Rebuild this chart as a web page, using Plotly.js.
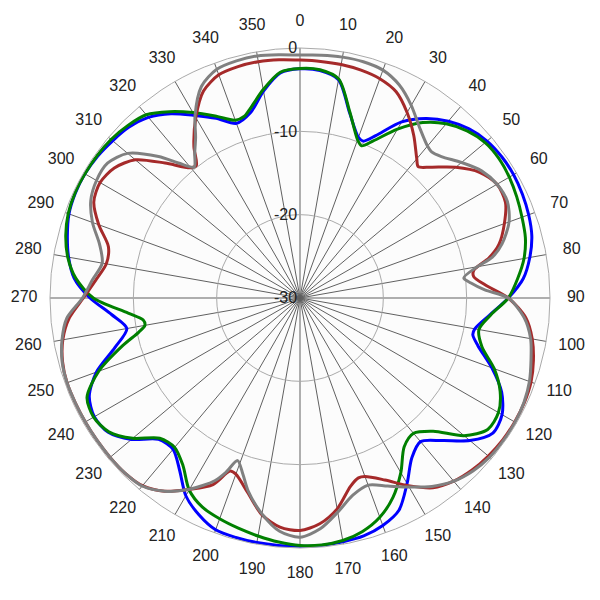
<!DOCTYPE html>
<html>
<head>
<meta charset="utf-8">
<script src="https://cdn.plot.ly/plotly-3.0.1.min.js"></script>
<style>html,body{margin:0;padding:0;background:#fff;}#chart{width:600px;height:600px;}</style>
</head>
<body>
<div id="chart"></div>
<script>
// Angles (degrees, clockwise from top) and levels (dB) per series
var blueTheta = [0,5,10,15,20,22,25,30,35,40,45,50,55,60,65,70,75,80,85,90,95,100,102,105,110,115,120,125,130,135,140,145,150,155,160,165,170,175,180,185,190,195,200,205,210,215,220,225,230,235,240,245,250,255,260,265,270,275,280,285,290,295,300,305,310,315,320,325,330,335,340,345,350,355,360];
var blueR = [-2.5,-2.6,-3.4,-7.0,-9.5,-9.7,-8.5,-5.6,-3.7,-2.3,-1.3,-0.7,-0.45,-0.4,-0.55,-0.8,-1.2,-2.0,-3.1,-5.0,-7.1,-8.7,-8.8,-7.9,-5.5,-3.3,-2.0,-1.75,-3.4,-5.8,-7.5,-6.6,-4.3,-1.9,-0.95,-0.45,-0.3,-0.2,-0.2,-0.2,-0.2,-0.25,-0.4,-1.3,-2.6,-4.8,-6.3,-6.0,-3.6,-1.9,-1.5,-2.1,-4.0,-7.0,-8.9,-7.3,-4.8,-2.8,-1.8,-1.1,-0.5,-0.25,-0.2,-0.35,-0.65,-1.0,-1.7,-3.0,-4.7,-6.2,-7.7,-7.0,-4.8,-2.9,-2.5];

var greenTheta = [0,5,10,15,20,22,25,30,35,40,45,50,55,60,65,70,75,80,85,90,95,100,105,110,115,120,125,130,135,140,145,150,155,160,165,170,175,180,185,190,195,200,205,210,215,220,225,230,235,240,245,250,255,258,260,262,265,270,275,280,285,290,295,300,305,310,315,320,325,330,335,340,343,345,350,355,360];
var greenR = [-2.45,-2.5,-3.3,-6.9,-9.8,-10.3,-9.2,-6.6,-4.3,-2.7,-1.65,-1.0,-0.85,-1.0,-1.3,-1.65,-2.0,-2.7,-3.8,-5.0,-7.0,-8.2,-7.4,-5.2,-3.5,-2.5,-2.5,-4.3,-7.4,-8.8,-8.2,-5.8,-3.6,-2.0,-1.0,-0.45,-0.25,-0.3,-0.6,-1.0,-1.4,-1.8,-2.3,-3.4,-5.5,-6.6,-6.2,-3.8,-2.0,-1.4,-1.8,-4.3,-8.0,-10.2,-11.1,-11.0,-9.3,-5.2,-3.0,-1.7,-0.9,-0.4,-0.2,-0.2,-0.25,-0.4,-0.75,-1.3,-2.7,-4.3,-5.9,-7.3,-7.2,-6.6,-4.6,-2.8,-2.45];

var redTheta = [0,5,10,15,20,25,30,35,40,42,45,50,55,60,65,70,75,78,81,83,86,90,95,100,105,110,115,120,125,130,135,140,145,150,155,160,162,165,170,175,180,185,190,195,200,202,205,210,215,220,225,230,235,240,245,250,255,260,265,270,275,280,285,290,295,300,305,310,315,320,322,325,330,335,340,345,350,355,360];
var redR = [-1.45,-1.5,-1.55,-1.7,-2.0,-2.7,-4.3,-6.2,-8.2,-8.8,-7.8,-5.6,-3.7,-2.7,-2.8,-3.9,-5.3,-6.8,-8.9,-9.0,-7.7,-5.0,-2.8,-1.7,-1.0,-0.5,-0.3,-0.25,-0.3,-0.5,-0.8,-1.3,-2.2,-4.0,-5.9,-7.2,-7.3,-6.6,-4.3,-2.8,-2.1,-2.4,-3.6,-5.8,-7.5,-7.6,-5.3,-3.5,-1.7,-0.6,-0.3,-0.25,-0.25,-0.25,-0.25,-0.25,-0.5,-1.1,-2.2,-4.0,-5.4,-6.4,-6.2,-4.3,-2.7,-2.3,-2.8,-4.2,-7.1,-9.6,-9.8,-7.8,-5.0,-2.6,-1.5,-1.25,-1.2,-1.3,-1.45];

var greyTheta = [0,5,10,15,20,25,30,35,40,42,45,50,55,60,65,70,75,78,80,83,85,87.5,90,95,100,105,110,115,120,125,130,135,140,145,150,155,160,165,170,175,180,185,190,195,198,201,203,205,210,215,220,225,230,235,240,245,250,255,260,265,270,275,280,285,290,295,300,305,310,315,318,321,324,327,330,335,340,345,350,355,360];
var greyR = [-0.85,-0.75,-0.65,-0.65,-0.9,-1.8,-3.3,-5.0,-6.2,-6.4,-6.0,-4.7,-3.4,-2.7,-2.55,-3.3,-4.9,-6.4,-8.4,-10.2,-9.4,-7.8,-5.0,-3.0,-1.9,-1.3,-0.7,-0.35,-0.2,-0.2,-0.3,-0.65,-1.3,-2.4,-3.8,-5.1,-6.1,-5.5,-3.9,-2.2,-1.3,-1.9,-3.7,-6.0,-7.8,-9.1,-7.3,-5.8,-3.5,-1.7,-0.55,-0.3,-0.25,-0.25,-0.25,-0.25,-0.25,-0.45,-1.0,-1.9,-3.9,-5.0,-5.9,-5.1,-3.5,-2.3,-1.8,-1.8,-3.0,-6.0,-8.2,-9.8,-8.5,-7.0,-4.8,-2.0,-0.8,-0.55,-0.5,-0.7,-0.85];

var angTicks = [0,10,20,30,40,50,60,70,80,90,100,110,120,130,140,150,160,170,180,190,200,210,220,230,240,250,260,270,280,290,300,310,320,330,340,350];
var angTickText = angTicks.map(String);
var angLabelR = 3.1;   // label ring just outside the 0 dB circle (on an outer, invisible polar)
var radTicks = [-30,-20,-10,0];

function tr(theta, r, color) {
  return {type:'scatterpolar', mode:'lines', theta:theta, r:r,
    line:{color:color, width:3, shape:'spline', smoothing:0.8},
    hoverinfo:'skip', showlegend:false};
}

var data = [
  tr(blueTheta, blueR, '#0000ff'),
  tr(greenTheta, greenR, '#008000'),
  tr(redTheta, redR, '#a52a2a'),
  tr(greyTheta, greyR, '#808080'),
  {type:'scatterpolar', subplot:'polar2', mode:'text', theta:angTicks,
   r:angTicks.map(function(){return angLabelR;}),
   text:angTickText, textposition:'middle center', cliponaxis:false,
   textfont:{family:'Liberation Sans, Arial, sans-serif', size:16, color:'#222'},
   hoverinfo:'skip', showlegend:false}
];

var d0 = 40/580, d1 = 540/580;
var layout = {
  width:600, height:600,
  margin:{l:10, r:10, t:8, b:12},
  paper_bgcolor:'#ffffff',
  showlegend:false,
  font:{family:'Liberation Sans, Arial, sans-serif', size:16, color:'#222'},
  polar:{
    bgcolor:'#fcfcfc',
    domain:{x:[d0,d1], y:[d0,d1]},
    angularaxis:{
      rotation:90, direction:'clockwise',
      tickmode:'array', tickvals:angTicks, ticktext:angTickText,
      showticklabels:false,
      showgrid:true, gridcolor:'#606060', gridwidth:1,
      showline:true, linecolor:'#aaaaaa', linewidth:1,
      ticks:''
    },
    radialaxis:{
      range:[-30,0], tickmode:'array', tickvals:radTicks, ticktext:radTicks.map(String),
      angle:90, side:'counterclockwise', tickangle:90, showline:false, ticks:'',
      showgrid:true, gridcolor:'#aaaaaa', gridwidth:1,
      tickfont:{size:16, color:'#222'}
    }
  },
  polar2:{
    bgcolor:'rgba(0,0,0,0)',
    domain:{x:[0,1], y:[0,1]},
    angularaxis:{rotation:90, direction:'clockwise', showgrid:false, showline:false,
      showticklabels:false, ticks:''},
    radialaxis:{range:[-30,4.8], visible:false, showgrid:false, showline:false,
      showticklabels:false, ticks:''}
  }
};

Plotly.newPlot('chart', data, layout, {displayModeBar:false, staticPlot:true});
</script>
</body>
</html>
